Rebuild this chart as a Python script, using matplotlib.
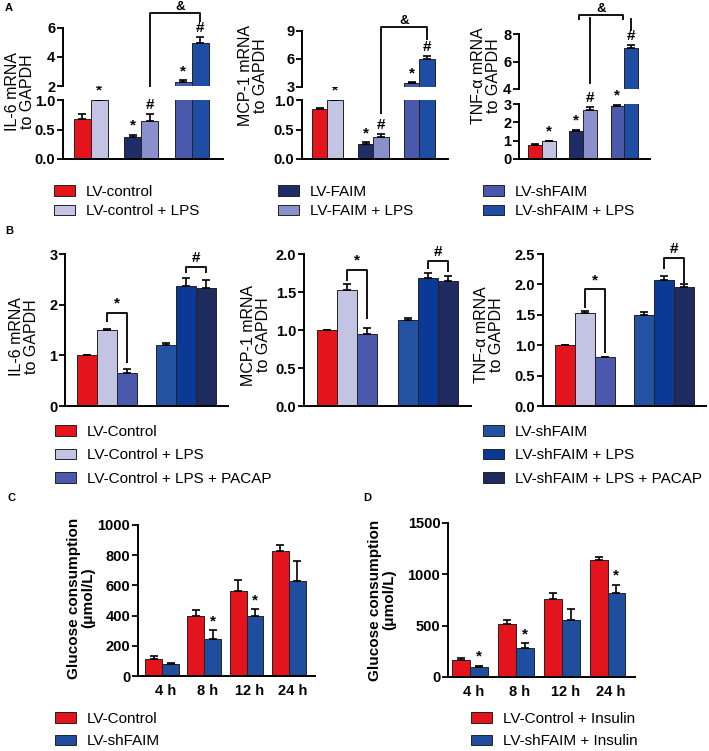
import numpy as np
import matplotlib
matplotlib.use("Agg")
import matplotlib.pyplot as plt

plt.rcParams['font.family'] = ['Liberation Sans', 'DejaVu Sans']

# ---------------- data ----------------
groups_A = ["LV-control", "LV-control + LPS", "LV-FAIM", "LV-FAIM + LPS",
            "LV-shFAIM", "LV-shFAIM + LPS"]
il6_A = [0.67, 1.00, 0.37, 0.65, 2.30, 4.95]
il6_A_err = [0.10, 0.0, 0.04, 0.11, 0.10, 0.40]
mcp1_A = [0.84, 1.00, 0.25, 0.37, 3.45, 6.05]
mcp1_A_err = [0.02, 0.0, 0.03, 0.05, 0.05, 0.25]
tnf_A = [0.75, 1.00, 1.55, 2.65, 2.90, 7.00]
tnf_A_err = [0.05, 0.0, 0.04, 0.20, 0.05, 0.20]
sig_A = ["", "*", "*", "#", "*", "#"]

groups_B = ["LV-Control", "LV-Control + LPS", "LV-Control + LPS + PACAP",
            "LV-shFAIM", "LV-shFAIM + LPS", "LV-shFAIM + LPS + PACAP"]
il6_B = [1.00, 1.50, 0.66, 1.20, 2.37, 2.33]
il6_B_err = [0.0, 0.02, 0.08, 0.05, 0.15, 0.15]
mcp1_B = [1.00, 1.52, 0.95, 1.13, 1.69, 1.65]
mcp1_B_err = [0.0, 0.08, 0.08, 0.03, 0.06, 0.06]
tnf_B = [1.00, 1.53, 0.80, 1.50, 2.07, 1.95]
tnf_B_err = [0.0, 0.03, 0.01, 0.05, 0.07, 0.05]

timepoints = ["4 h", "8 h", "12 h", "24 h"]
C_ctrl = [110, 395, 560, 830]
C_ctrl_err = [22, 40, 75, 40]
C_sh = [80, 248, 398, 628]
C_sh_err = [6, 55, 45, 135]
sig_C = ["", "*", "*", ""]
D_ctrl = [170, 520, 755, 1140]
D_ctrl_err = [12, 40, 60, 30]
D_sh = [100, 280, 555, 820]
D_sh_err = [10, 50, 105, 78]
sig_D = ["*", "*", "", "*"]
labels_C = ["LV-Control", "LV-shFAIM"]
labels_D = ["LV-Control + Insulin", "LV-shFAIM + Insulin"]

colors_A = ["#E3141B", "#C3C3E3", "#1F2D66", "#8A90CC", "#4A59AC", "#1E4EA3"]
colors_B = ["#E3141B", "#C3C3E3", "#4A59AC", "#2452A3", "#0B3A96", "#1F2A5E"]
colors_CD = ["#E3141B", "#1F4E9E"]
EDGE = "#222222"

# ---------------- helpers ----------------
W, H = 709, 751
fig = plt.figure(figsize=(W / 100, H / 100), dpi=100)


def fx(x):
    return x / W


def fy(y):
    return 1 - y / H


def px_axes(l, t, r, b):
    return fig.add_axes([l / W, 1 - b / H, (r - l) / W, (b - t) / H])


TICK_FS = 10.5


def style_ax(ax, left_only=False, xticks=False):
    for s in ("top", "right"):
        ax.spines[s].set_visible(False)
    ax.spines["left"].set_linewidth(1.4)
    ax.spines["bottom"].set_linewidth(1.4)
    if left_only:
        ax.spines["bottom"].set_visible(False)
    ax.tick_params(axis="y", direction="out", length=4, width=1.3, pad=1.5,
                   labelsize=TICK_FS)
    if xticks:
        ax.tick_params(axis="x", length=0, pad=6, labelsize=TICK_FS)
    else:
        ax.tick_params(axis="x", length=0, labelbottom=False)
    for lab in ax.get_yticklabels() + ax.get_xticklabels():
        lab.set_fontweight("bold")


def add_sig(ax, x, y, s, off=1.5):
    if s:
        ax.annotate(s, xy=(x, y), xytext=(0, off), textcoords="offset points",
                    ha="center", va="bottom", fontsize=11, fontweight="bold",
                    annotation_clip=False)


def amp(ax, x, y):
    ax.annotate("&", xy=(x, y), xytext=(0, 2), textcoords="offset points",
                ha="center", va="baseline", fontsize=9.5, fontweight="bold",
                annotation_clip=False)


def ylabel(x, y, txt, bold=False, size=11.5):
    fig.text(fx(x), fy(y), txt, rotation=90, ha="center", va="center",
             multialignment="center", fontsize=size, linespacing=1.0,
             fontweight="bold" if bold else "normal")


def add_legend(handles, labels, x_px, y_top_px, spacing):
    fig.legend(handles, labels, loc="upper left",
               bbox_to_anchor=(fx(x_px), fy(y_top_px)),
               bbox_transform=fig.transFigure, frameon=False, fontsize=11,
               handlelength=1.35, handleheight=0.7, handletextpad=0.75,
               labelspacing=spacing, borderpad=0, borderaxespad=0)


def bracket(ax, x1, x2, ytop, yl, yr, lw=1.3):
    ax.plot([x1, x1, x2, x2], [yl, ytop, ytop, yr], color="k", lw=lw,
            clip_on=False, solid_capstyle="butt")


# ---------------- panel A ----------------
wA = 0.335
xs_A = np.array([g + (k - 0.5) * wA for g in range(3) for k in range(2)])


def panel_A(l, r, up_tb, lo_tb, vals, errs, lo_lim, lo_ticks, lo_fmt,
            up_lim, up_ticks):
    ax_lo = px_axes(l, lo_tb[0], r, lo_tb[1])
    ax_up = px_axes(l, up_tb[0], r, up_tb[1])
    bars = None
    for ax in (ax_lo, ax_up):
        b = ax.bar(xs_A, vals, width=wA, color=colors_A, edgecolor=EDGE,
                   linewidth=0.7)
        ax.errorbar(xs_A, vals, yerr=[np.zeros(len(vals)), errs], fmt="none",
                    ecolor="k", elinewidth=1.2, capsize=3, capthick=1.2)
        ax.set_xlim(-0.55, 2.62)
        if bars is None:
            bars = b
    ax_lo.set_ylim(0, lo_lim)
    ax_lo.set_yticks(lo_ticks)
    ax_lo.set_yticklabels([lo_fmt.format(t) for t in lo_ticks])
    ax_up.set_ylim(*up_lim)
    ax_up.set_yticks(up_ticks)
    ax_up.set_yticklabels([str(t) for t in up_ticks])
    style_ax(ax_lo)
    style_ax(ax_up, left_only=True)
    for x, v, e, s in zip(xs_A, vals, errs, sig_A):
        top = v + e
        ax = ax_lo if top <= lo_lim else ax_up
        add_sig(ax, x, top, s)
    return ax_lo, ax_up, bars


# IL-6
lo, up, barsA = panel_A(63, 223, (28, 86), (100, 159), il6_A, il6_A_err,
                        1.0, [0.0, 0.5, 1.0], "{:.1f}", (2, 6), [2, 4, 6])
bracket(up, xs_A[3], xs_A[5], 7.03, 1.93, 6.4)
amp(up, (xs_A[3] + xs_A[5]) / 2 + 0.1, 7.03)
ylabel(20, 92, "IL-6 mRNA\nto GAPDH")

# MCP-1
lo, up, _ = panel_A(302, 448, (31, 87), (100, 159), mcp1_A, mcp1_A_err,
                    1.0, [0.0, 0.5, 1.0], "{:.1f}", (3, 9), [3, 6, 9])
bracket(up, xs_A[3], xs_A[5], 9.43, 0.1, 8.04)
amp(up, (xs_A[3] + xs_A[5]) / 2, 9.43)
ylabel(253, 76, "MCP-1 mRNA\nto GAPDH")

# TNF-a
lo, up, _ = panel_A(519, 650, (34, 89), (104, 159), tnf_A, tnf_A_err,
                    3.0, [0, 1, 2, 3], "{:.0f}", (4, 8), [4, 6, 8])
bracket(up, 0.9, 1.97, 9.38, 9.0, 9.0)
up.plot([xs_A[3], xs_A[3]], [9.16, 4.44], color="k", lw=1.3, clip_on=False)
up.plot([xs_A[5], xs_A[5]], [9.09, 8.29], color="k", lw=1.3, clip_on=False)
amp(up, (0.9 + 1.97) / 2, 9.38)
ylabel(486, 76, "TNF-α mRNA\nto GAPDH")

add_legend(list(barsA[0:2]), groups_A[0:2], 54, 185, 0.35)
add_legend(list(barsA[2:4]), groups_A[2:4], 278, 185, 0.35)
add_legend(list(barsA[4:6]), groups_A[4:6], 483, 185, 0.35)

# ---------------- panel B ----------------
wB = 0.25
xs_B = np.array([g + (k - 1) * wB for g in range(2) for k in range(3)])


def panel_B(l, r, vals, errs, ymax, ticks, fmt):
    ax = px_axes(l, 254, r, 406)
    b = ax.bar(xs_B, vals, width=wB, color=colors_B, edgecolor=EDGE,
               linewidth=0.7)
    ax.errorbar(xs_B, vals, yerr=[np.zeros(len(vals)), errs], fmt="none",
                ecolor="k", elinewidth=1.2, capsize=3, capthick=1.2)
    ax.set_xlim(-0.53, 1.53)
    ax.set_ylim(0, ymax)
    ax.set_yticks(ticks)
    ax.set_yticklabels([fmt.format(t) for t in ticks])
    style_ax(ax)
    return ax, b


ax, barsB = panel_B(65, 228, il6_B, il6_B_err, 3, [0, 1, 2, 3], "{:.0f}")
bracket(ax, xs_B[1], xs_B[2], 1.84, 1.65, 0.85)
add_sig(ax, (xs_B[1] + xs_B[2]) / 2, 1.84, "*")
bracket(ax, xs_B[4], xs_B[5], 2.74, 2.62, 2.62)
add_sig(ax, (xs_B[4] + xs_B[5]) / 2, 2.74, "#")
ylabel(24, 337, "IL-6 mRNA\nto GAPDH")

ax, _ = panel_B(304, 471, mcp1_B, mcp1_B_err, 2.0,
                [0.0, 0.5, 1.0, 1.5, 2.0], "{:.1f}")
bracket(ax, xs_B[1], xs_B[2], 1.79, 1.64, 1.14)
add_sig(ax, (xs_B[1] + xs_B[2]) / 2, 1.79, "*")
bracket(ax, xs_B[4], xs_B[5], 1.91, 1.80, 1.76)
add_sig(ax, (xs_B[4] + xs_B[5]) / 2, 1.91, "#")
ylabel(256, 335, "MCP-1 mRNA\nto GAPDH")

ax, _ = panel_B(543, 706, tnf_B, tnf_B_err, 2.5,
                [0.0, 0.5, 1.0, 1.5, 2.0, 2.5], "{:.1f}")
bracket(ax, xs_B[1], xs_B[2], 1.92, 1.62, 0.87)
add_sig(ax, (xs_B[1] + xs_B[2]) / 2, 1.92, "*")
bracket(ax, xs_B[4], xs_B[5], 2.43, 2.25, 2.03)
add_sig(ax, (xs_B[4] + xs_B[5]) / 2, 2.43, "#")
ylabel(489, 335, "TNF-α mRNA\nto GAPDH")

add_legend(list(barsB[0:3]), groups_B[0:3], 55, 425, 0.62)
add_legend(list(barsB[3:6]), groups_B[3:6], 483, 425, 0.62)

# ---------------- panels C & D ----------------


def panel_CD(l, t, r, b, ctrl, ctrl_e, sh, sh_e, sigs, ymax, ticks, xlim, w):
    ax = px_axes(l, t, r, b)
    g = np.arange(len(timepoints))
    b1 = ax.bar(g - w / 2, ctrl, width=w, color=colors_CD[0], edgecolor=EDGE,
                linewidth=0.7)
    b2 = ax.bar(g + w / 2, sh, width=w, color=colors_CD[1], edgecolor=EDGE,
                linewidth=0.7)
    ax.errorbar(g - w / 2, ctrl, yerr=[np.zeros(4), ctrl_e], fmt="none",
                ecolor="k", elinewidth=1.2, capsize=3, capthick=1.2)
    ax.errorbar(g + w / 2, sh, yerr=[np.zeros(4), sh_e], fmt="none",
                ecolor="k", elinewidth=1.2, capsize=3, capthick=1.2)
    ax.set_xlim(*xlim)
    ax.set_ylim(0, ymax)
    ax.set_yticks(ticks)
    ax.set_xticks(g + 0.08)
    ax.set_xticklabels(timepoints)
    style_ax(ax, xticks=True)
    for x, v, e, s in zip(g + w / 2, sh, sh_e, sigs):
        add_sig(ax, x, v + e, s)
    return ax, b1, b2


ax, b1, b2 = panel_CD(138, 525, 315, 676, C_ctrl, C_ctrl_err, C_sh, C_sh_err,
                      sig_C, 1000, [0, 200, 400, 600, 800, 1000],
                      (-0.57, 3.62), 0.4)
ylabel(81, 598, "Glucose consumption\n(μmol/L)", bold=True, size=11)
add_legend([b1, b2], labels_C, 55, 712, 0.55)

ax, b1, b2 = panel_CD(448, 523, 635, 677, D_ctrl, D_ctrl_err, D_sh, D_sh_err,
                      sig_D, 1500, [0, 500, 1000, 1500], (-0.48, 3.6), 0.39)
ylabel(382, 600, "Glucose consumption\n(μmol/L)", bold=True, size=11)
add_legend([b1, b2], labels_D, 471, 712, 0.55)

# panel letters
for lab, x, y in [("A", 5, 8), ("B", 5, 231), ("C", 8, 498), ("D", 363, 498)]:
    fig.text(fx(x), fy(y), lab, ha="left", va="center", fontsize=8,
             fontweight="bold")

fig.savefig("out.png", dpi=100)
